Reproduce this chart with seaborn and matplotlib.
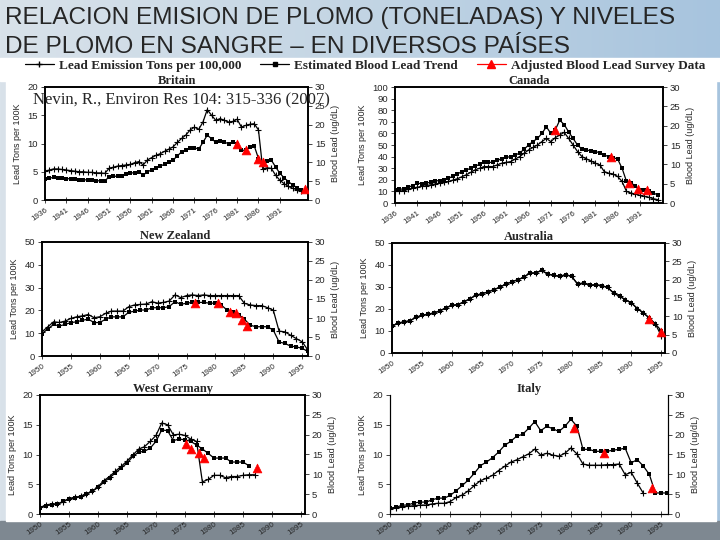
import numpy as np
import seaborn as sns
import matplotlib
matplotlib.use("Agg")
import matplotlib.pyplot as plt
from matplotlib.lines import Line2D
from matplotlib.patches import Rectangle
from matplotlib.colors import LinearSegmentedColormap

# Britain
britain_years = list(range(1936, 1997))
britain_emission = [5.1, 5.3, 5.5, 5.5, 5.4, 5.3, 5.2, 5.1, 5.0, 5.0, 4.9, 4.9, 4.8, 4.8, 4.7,
                    5.6, 5.8, 6.0, 6.1, 6.2, 6.3, 6.6, 6.8, 6.2, 7.1, 7.5, 7.9, 8.2, 8.6, 9.0,
                    9.4, 10.2, 10.9, 11.5, 12.4, 12.9, 12.5, 13.8, 16.0, 15.0, 14.1, 14.4, 14.1,
                    13.8, 13.9, 14.3, 12.9, 13.2, 13.4, 13.5, 12.4, 5.5, 5.7, 5.6, 4.4, 3.5, 2.9,
                    2.4, 2.1, 1.8, 1.6]
britain_blood = [5.5, 5.8, 6.0, 5.9, 5.8, 5.7, 5.6, 5.5, 5.4, 5.4, 5.3, 5.2, 5.1, 5.1, 5.0,
                 6.2, 6.3, 6.3, 6.4, 6.8, 7.1, 7.3, 7.5, 6.6, 7.5, 8.0, 8.5, 9.0, 9.5, 10.0,
                 10.6, 11.7, 12.8, 13.3, 13.7, 13.9, 13.5, 15.3, 17.2, 16.3, 15.3, 15.6, 15.3,
                 15.0, 15.3, 15.0, 13.2, 13.2, 14.1, 14.4, 11.0, 9.7, 10.3, 10.6, 8.8, 7.1, 5.9,
                 4.9, 4.0, 3.3, 2.6]
britain_survey_years = [1981, 1983, 1986, 1987, 1997]
britain_survey = [15.0, 13.3, 11.0, 10.0, 3.0]

# Canada
canada_years = list(range(1936, 1996))
canada_emission = [10.0, 10.3, 10.6, 11.8, 12.9, 13.6, 14.3, 15.0, 15.7, 16.4, 17.1, 17.8, 18.6,
                   19.7, 20.9, 22.6, 24.3, 26.4, 28.6, 30.0, 31.4, 31.4, 31.4, 32.9, 34.3, 35.0,
                   35.7, 37.9, 40.0, 42.9, 45.7, 47.9, 50.0, 52.9, 55.7, 52.9, 56.3, 58.6, 60.9,
                   55.7, 50.0, 44.3, 40.0, 38.0, 36.3, 34.3, 32.9, 27.1, 25.7, 24.9, 22.9, 18.6,
                   10.0, 8.6, 7.7, 6.6, 5.7, 4.9, 3.7, 2.9]
canada_blood = [3.4, 3.5, 3.7, 4.1, 4.5, 5.1, 5.0, 5.1, 5.4, 5.7, 5.8, 6.0, 6.4, 6.9, 7.5, 8.1,
                8.5, 9.0, 9.5, 10.0, 10.7, 10.5, 10.5, 11.0, 11.5, 11.8, 12.0, 12.4, 12.9, 13.9,
                15.0, 15.9, 16.7, 18.0, 19.7, 18.0, 18.9, 21.4, 20.3, 18.4, 16.7, 15.0, 13.9,
                13.7, 13.5, 13.3, 13.0, 12.4, 12.0, 11.7, 11.4, 9.0, 5.6, 5.3, 4.3, 3.4, 3.4,
                3.2, 2.6, 2.1]
canada_survey_years = [1972, 1984.5, 1988.5, 1990.5, 1992.5]
canada_survey = [19.0, 11.8, 5.1, 3.6, 3.4]

# New Zealand
nz_years = list(range(1950, 1997))
nz_emission = [10.6, 12.8, 15.0, 14.7, 15.3, 16.5, 17.2, 17.6, 18.2, 16.8, 17.2, 18.7, 19.7,
               19.7, 19.7, 21.6, 22.4, 22.6, 22.8, 23.8, 23.2, 23.5, 24.1, 26.8, 25.6, 26.5,
               26.8, 26.5, 26.8, 26.5, 26.5, 26.5, 26.5, 26.5, 26.5, 23.1, 22.4, 22.1, 22.1,
               21.2, 20.1, 10.9, 10.6, 9.1, 7.6, 6.2, 2.5]
nz_blood = [5.9, 7.1, 8.3, 7.9, 8.3, 8.8, 9.0, 9.4, 9.7, 8.8, 8.8, 9.7, 10.3, 10.3, 10.3, 11.5,
            11.8, 12.1, 12.1, 12.7, 12.7, 12.7, 13.0, 14.3, 13.6, 13.9, 14.1, 14.1, 14.1, 13.9,
            13.9, 13.4, 12.1, 11.5, 10.9, 9.7, 8.1, 7.7, 7.7, 7.7, 6.8, 3.7, 3.3, 2.6, 2.4,
            2.0, 1.2]
nz_survey_years = [1976.5, 1980.5, 1982.5, 1983.5, 1984.5, 1985.5]
nz_survey = [14.0, 13.9, 11.7, 11.4, 9.4, 7.9]

# Australia
aus_years = list(range(1950, 1996))
aus_emission = [12.1, 13.6, 14.1, 14.7, 16.2, 17.1, 17.7, 18.2, 19.2, 20.5, 21.7, 22.0, 23.2,
                24.7, 26.2, 27.0, 27.7, 28.8, 29.8, 31.4, 32.3, 33.3, 34.4, 36.4, 36.4, 37.6,
                35.9, 35.3, 34.8, 35.6, 34.8, 31.4, 31.8, 30.8, 31.1, 30.6, 29.8, 27.3, 25.8,
                24.2, 22.7, 20.2, 18.2, 15.9, 13.2, 7.6]
aus_blood = [7.3, 8.2, 8.5, 8.8, 9.7, 10.3, 10.6, 10.9, 11.5, 12.3, 13.0, 13.2, 13.9, 14.8,
             15.7, 16.2, 16.6, 17.3, 17.9, 18.8, 19.4, 20.0, 20.6, 21.8, 21.8, 22.5, 21.5, 21.2,
             20.9, 21.4, 20.9, 18.8, 19.1, 18.5, 18.6, 18.4, 17.9, 16.4, 15.5, 14.5, 13.6,
             12.1, 10.9, 9.5, 7.9, 6.1]
aus_survey_years = [1993, 1995]
aus_survey = [9.3, 5.6]

# West Germany
wg_emission_years = list(range(1950, 1988))
wg_emission = [1.1, 1.5, 1.7, 1.7, 2.0, 2.6, 2.8, 3.0, 3.4, 3.8, 4.6, 5.6, 6.3, 7.2, 8.0, 8.9,
               9.9, 10.9, 11.3, 12.2, 13.2, 15.3, 15.0, 13.3, 13.4, 13.2, 12.6, 12.2, 5.4, 5.8,
               6.5, 6.5, 6.1, 6.3, 6.3, 6.5, 6.6, 6.6]
wg_blood_years = list(range(1950, 1987))
wg_blood = [1.5, 2.1, 2.3, 2.5, 3.2, 3.9, 4.0, 4.4, 5.0, 5.7, 6.7, 8.0, 9.2, 10.3, 11.6, 12.8,
            14.5, 15.6, 15.8, 16.6, 18.3, 21.2, 21.0, 18.5, 18.9, 18.7, 18.3, 17.4, 16.4, 15.3,
            14.1, 14.1, 14.1, 13.1, 13.1, 13.1, 12.2]
wg_survey_years = [1975.2, 1976.1, 1977.4, 1978.2, 1987.5]
wg_survey = [17.6, 16.4, 15.3, 14.2, 11.7]

# Italy
italy_emission_years = list(range(1950, 1993))
italy_emission = [0.9, 1.0, 1.2, 1.3, 1.4, 1.5, 1.5, 1.7, 1.8, 1.8, 2.1, 2.8, 3.2, 3.9, 4.8,
                  5.6, 6.0, 6.5, 7.3, 8.0, 8.7, 9.1, 9.6, 10.1, 10.9, 9.9, 10.2, 9.9, 9.7, 10.2,
                  11.1, 10.1, 8.4, 8.2, 8.2, 8.2, 8.3, 8.3, 8.4, 6.6, 7.0, 5.2, 3.5]
italy_blood_years = list(range(1950, 1997))
italy_blood = [1.5, 1.7, 2.2, 2.3, 2.8, 3.0, 3.0, 3.6, 4.0, 4.0, 4.7, 5.9, 7.2, 8.6, 10.3, 12.2,
               13.1, 14.2, 15.6, 17.3, 18.3, 19.6, 20.1, 21.6, 23.3, 21.0, 22.1, 21.5, 20.8,
               22.1, 23.9, 22.1, 16.3, 16.3, 15.8, 15.8, 15.8, 16.1, 16.3, 16.6, 12.9, 13.7,
               12.1, 10.0, 5.3, 5.3, 5.3]
italy_survey_years = [1980.5, 1985.5, 1993.5]
italy_survey = [21.6, 15.5, 6.5]

title_lines = ["RELACION EMISION DE PLOMO (TONELADAS) Y NIVELES",
               "DE PLOMO EN SANGRE \u2013 EN DIVERSOS PAÍSES"]
legend_labels = ["Lead Emission Tons per 100,000", "Estimated Blood Lead Trend",
                 "Adjusted Blood Lead Survey Data"]
citation = "Nevin, R., Environ Res 104: 315-336 (2007)"

sns.set_theme(style="ticks")
plt.rcParams["font.family"] = ["Liberation Sans", "DejaVu Sans"]
SERIF = ["Liberation Serif", "DejaVu Serif"]

W, H = 720.0, 540.0
fig = plt.figure(figsize=(7.2, 5.4), dpi=100)

# slide background
bg = fig.add_axes([0, 0, 1, 1], zorder=-10)
bg.axis("off")
sky = LinearSegmentedColormap.from_list("sky", ["#d9e2ea", "#c3d5e4", "#a7c4de"])
bg.imshow(np.linspace(0, 1, 256).reshape(1, -1), cmap=sky, aspect="auto",
          extent=[0, 1, 0, 1])
bg.add_patch(Rectangle((0, 0), 1, 19 / H, color="#7e8891"))
bg.add_patch(Rectangle((6 / W, 19 / H), 710 / W, 440 / H, color="white"))
bg.add_patch(Rectangle((0, 459 / H), 1, 23 / H, color="white"))
bg.set_xlim(0, 1)
bg.set_ylim(0, 1)

fig.text(5 / W, 1 - 18 / H, title_lines[0], fontsize=17.6, va="center", ha="left")
fig.text(5 / W, 1 - 47 / H, title_lines[1], fontsize=17.6, va="center", ha="left")


def box(left, top, right, bottom):
    return [left / W, 1 - bottom / H, (right - left) / W, (bottom - top) / H]


def panel(rect, name, e_years, emission, b_years, blood, s_years, survey,
          left_max, left_step, xlim, xticks, top_spine=True):
    ax = fig.add_axes(rect)
    ax2 = ax.twinx()
    sns.lineplot(x=e_years, y=emission, ax=ax, color="black", marker="+",
                 markersize=4.5, markeredgewidth=0.8, markeredgecolor="black",
                 linewidth=0.9)
    sns.lineplot(x=b_years, y=blood, ax=ax2, color="black", marker="s",
                 markersize=3.2, markeredgewidth=0, linewidth=0.9)
    sns.scatterplot(x=s_years, y=survey, ax=ax2, color="red", marker="^",
                    s=40, edgecolor="red", linewidth=0.5, zorder=5)
    ax.set_xlim(*xlim)
    ax.set_ylim(0, left_max)
    ax.set_yticks(np.arange(0, left_max + 0.1, left_step))
    ax2.set_ylim(0, 30)
    ax2.set_yticks(np.arange(0, 31, 5))
    ax.set_xticks(xticks)
    ax.set_xticklabels([str(t) for t in xticks], rotation=35,
                       ha="right", rotation_mode="anchor", fontsize=5.8)
    ax.tick_params(axis="x", direction="inout", length=4, width=0.6, pad=3)
    ax.tick_params(axis="y", labelsize=6.8, length=3, width=0.6, pad=2)
    ax2.tick_params(axis="y", labelsize=6.8, length=3, width=0.6, pad=2)
    ax.set_ylabel("Lead Tons per 100K", fontsize=6.5, labelpad=4)
    ax2.set_ylabel("Blood Lead (ug/dL)", fontsize=6.5, labelpad=4)
    ax.set_xlabel("")
    for a in (ax, ax2):
        for side in ["left", "right", "bottom", "top"]:
            a.spines[side].set_linewidth(1.2 if top_spine else 0.8)
            a.spines[side].set_color("black")
        a.spines["top"].set_visible(top_spine)
    ax.set_title(name, fontsize=9, fontweight="bold", family=SERIF, pad=1.5)
    return ax, ax2


ticks_1936 = list(range(1936, 1992, 5))
ticks_1950 = list(range(1950, 1996, 5))

panel(box(45, 87, 308, 200), "Britain", britain_years, britain_emission,
      britain_years, britain_blood, britain_survey_years, britain_survey,
      20, 5, (1936, 1997.6), ticks_1936)
panel(box(395, 87, 663, 203), "Canada", canada_years, canada_emission,
      canada_years, canada_blood, canada_survey_years, canada_survey,
      100, 10, (1936, 1996.2), ticks_1936)
panel(box(42, 242, 308, 356), "New Zealand", nz_years, nz_emission,
      nz_years, nz_blood, nz_survey_years, nz_survey,
      50, 10, (1950, 1996), ticks_1950)
panel(box(392, 243, 665, 353), "Australia", aus_years, aus_emission,
      aus_years, aus_blood, aus_survey_years, aus_survey,
      50, 10, (1950, 1995.6), ticks_1950)
panel(box(40, 395, 305, 514), "West Germany", wg_emission_years, wg_emission,
      wg_blood_years, wg_blood, wg_survey_years, wg_survey,
      20, 5, (1950, 1995.7), ticks_1950)
panel(box(390, 395, 668, 514), "Italy", italy_emission_years, italy_emission,
      italy_blood_years, italy_blood, italy_survey_years, italy_survey,
      20, 5, (1950, 1996.1), ticks_1950, top_spine=False)

handles = [Line2D([], [], color="black", marker="+", markersize=5, linewidth=0.9),
           Line2D([], [], color="black", marker="s", markersize=3, linewidth=0.9),
           Line2D([], [], color="red", marker="^", markersize=6, linewidth=0.9)]
fig.legend(handles, legend_labels, loc="center", bbox_to_anchor=(365 / W, 1 - 66 / H),
           ncol=3, frameon=False, handlelength=2.2, handletextpad=0.4, columnspacing=1.4,
           prop={"family": SERIF, "weight": "bold", "size": 9.5})

fig.text(33 / W, 1 - 100 / H, citation, fontsize=12, family=SERIF, va="center", ha="left")

fig.savefig("out.png", dpi=100)
